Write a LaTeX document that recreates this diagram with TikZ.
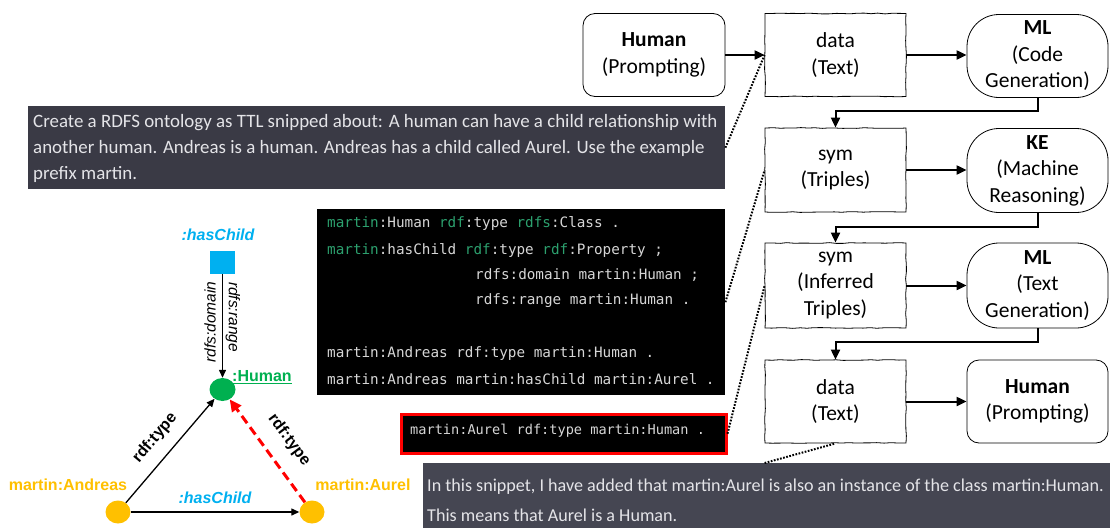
\documentclass[tikz,border=0pt]{standalone}
\usepackage{fontspec}
\setmainfont{Carlito}
\newfontfamily\arialf{Liberation Sans}
\newfontfamily\codef{DejaVu Sans Mono}
\usetikzlibrary{arrows.meta,shapes.geometric,decorations.pathmorphing,calc}
\definecolor{promptbg}{RGB}{58,58,69}
\definecolor{ansbg}{RGB}{69,70,82}
\definecolor{ptext}{RGB}{228,228,232}
\definecolor{codegreen}{RGB}{44,160,110}
\definecolor{codegray}{RGB}{214,214,214}
\definecolor{ccyan}{RGB}{0,176,240}
\definecolor{cgreen}{RGB}{0,176,80}
\definecolor{corange}{RGB}{255,192,0}
\begin{document}
\pgfmathsetseed{7}
\begin{tikzpicture}[x=1pt,y=-1pt,
 flowbase/.style={draw=black, line width=0.8pt, minimum width=141pt, minimum height=83pt, inner sep=0pt, align=center, font=\fontsize{21.5}{26.5}\selectfont},
 flowbox/.style={flowbase, decorate, decoration={random steps,segment length=7pt,amplitude=0.4pt}},
 humbox/.style={flowbase, rounded corners=12pt},
 cloudbox/.style={flowbase, rounded corners=32pt},
 conn/.style={line width=2pt, -{Triangle[length=10pt,width=9pt]}},
 dotline/.style={line width=2pt, dash pattern=on 1.7pt off 1.5pt},
 darkbox/.style={inner sep=0pt, anchor=north west},
 ptxt/.style={inner sep=0pt, anchor=west, align=left, text=ptext},
 codeline/.style={inner sep=0pt, anchor=base west, text=codegray, font=\codef\fontsize{14.3}{16}\selectfont},
 gfont/.style={inner sep=0pt, font=\arialf\bfseries\fontsize{16}{18}\selectfont},
 gnode/.style={ellipse, minimum width=26pt, minimum height=23pt, inner sep=0pt},
 garrow/.style={line width=1.3pt, -{Triangle[length=8pt,width=7pt]}},
 redarrow/.style={line width=3pt, red, dash pattern=on 9pt off 5pt, -{Triangle[length=12pt,width=11pt]}},
]
\useasboundingbox (0,0) rectangle (1110,528);

% ---------- flow on the right ----------
\node[humbox, minimum width=142pt] (hum1) at (654,55) {\textbf{Human}\\(Prompting)};
\node[flowbox] (dat1) at (835.5,55) {data\\(Text)};
\node[cloudbox] (ml1) at (1037.5,56) {\textbf{ML}\\(Code\\Generation)};
\node[flowbox, minimum height=84pt] (sym1) at (835.5,170) {sym\\(Triples)};
\node[cloudbox, minimum height=84pt] (ke) at (1037.5,170.5) {\textbf{KE}\\(Machine\\Reasoning)};
\node[flowbox, minimum height=85pt] (sym2) at (835.5,285.5) {sym\\(Inferred\\Triples)};
\node[cloudbox, minimum height=85pt] (ml2) at (1037.5,285.5) {\textbf{ML}\\(Text\\Generation)};
\node[flowbox] (dat2) at (835.5,401.5) {data\\(Text)};
\node[humbox] (hum2) at (1037.5,401.5) {\textbf{Human}\\(Prompting)};

\draw[conn] (hum1) -- (dat1);
\draw[conn] (dat1) -- (ml1.west |- dat1);
\draw[conn] (ml1.south) -- ++(0,13) -| (sym1.north);
\draw[conn] (sym1) -- (ke.west |- sym1);
\draw[conn] (ke.south) -- ++(0,14) -| (sym2.north);
\draw[conn] (sym2) -- (ml2);
\draw[conn] (ml2.south) -- ++(0,14) -| (dat2.north);
\draw[conn] (dat2) -- (hum2);

% ---------- prompt box ----------
\node[darkbox, fill=promptbg, minimum width=697pt, minimum height=83pt] (prompt) at (28,106) {};
\node[ptxt, font=\fontsize{18.9}{26}\selectfont] (prompttext) at (33,148)
 {Create a RDFS ontology as TTL snipped about: A human can have a child relationship with\\
  another human. Andreas is a human. Andreas has a child called Aurel. Use the example\\
  prefix martin.};

% ---------- code box ----------
\node[darkbox, fill=black, minimum width=408pt, minimum height=186pt] (code) at (317,209) {};
\node[codeline] (c1) at (327,227) {{\color{codegreen}martin}:Human {\color{codegreen}rdf}:type {\color{codegreen}rdfs}:Class .};
\node[codeline] (c2) at (327,254) {{\color{codegreen}martin}:hasChild {\color{codegreen}rdf}:type {\color{codegreen}rdf}:Property ;};
\node[codeline] (c3) at (475,279) {rdfs:domain martin:Human ;};
\node[codeline] (c4) at (475,304) {rdfs:range martin:Human .};
\node[codeline] (c5) at (327,357) {martin:Andreas rdf:type martin:Human .};
\node[codeline] (c6) at (327,384) {martin:Andreas martin:hasChild martin:Aurel .};

% ---------- inferred triple box ----------
\node[darkbox, fill=black, draw=red, line width=2.5pt, minimum width=325pt, minimum height=39pt] (inf) at (400,413) {};
\node[codeline, anchor=west, font=\codef\fontsize{13.6}{15}\selectfont] (inftext) at (410,431) {martin:Aurel rdf:type martin:Human .};

% ---------- answer box ----------
\node[darkbox, fill=ansbg, minimum width=687pt, minimum height=65pt] (ans) at (423,463) {};
\node[ptxt, font=\fontsize{18.1}{30}\selectfont] (anstext) at (427,500)
 {In this snippet, I have added that martin:Aurel is also an instance of the class martin:Human.\\
  This means that Aurel is a Human.};

% ---------- dotted links ----------
\draw[dotline] (prompt.east) -- (dat1.west);
\draw[dotline] (code.east) -- (sym1.west);
\draw[dotline] (inf.east) -- (sym2.west);
\draw[dotline] (ans.north -| dat2.west) -- (dat2.south);

% ---------- RDF graph ----------
\node[rectangle, fill=ccyan, minimum width=25pt, minimum height=23pt, inner sep=0pt] (sq) at (222.5,262.5) {};
\node[gnode, fill=cgreen] (hum) at (222.5,389.5) {};
\node[gnode, fill=corange, minimum width=25pt] (and) at (118,512) {};
\node[gnode, fill=corange, minimum width=25pt] (aur) at (312,512) {};

\node[gfont, text=ccyan, font=\arialf\bfseries\itshape\fontsize{16}{18}\selectfont] (hclab) at (218,235) {:hasChild};
\node[gfont, text=cgreen, anchor=west] (humlab) at (232,377) {\underline{:Human}};
\node[gfont, text=corange] (andlab) at (68,485) {martin:Andreas};
\node[gfont, text=corange] (aurlab) at (363,485) {martin:Aurel};
\node[gfont, text=ccyan, font=\arialf\bfseries\itshape\fontsize{16}{18}\selectfont] (hclab2) at (215,498) {:hasChild};

\draw[garrow] (sq) -- (hum);
\draw[garrow] (and) -- (aur);
\draw[garrow] (and) -- (hum);
\draw[redarrow] (aur) -- (hum);

\node[inner sep=0pt, rotate=90, font=\arialf\itshape\fontsize{15.5}{17}\selectfont] (domlab) at (210,322) {rdfs:domain};
\node[inner sep=0pt, rotate=-90, font=\arialf\itshape\fontsize{15.5}{17}\selectfont] (ranlab) at (233,317) {rdfs:range};
\node[gfont, rotate=50] (t1) at (155,438) {rdf:type};
\node[gfont, rotate=-53] (t2) at (289,440) {rdf:type};
\end{tikzpicture}
\end{document}
